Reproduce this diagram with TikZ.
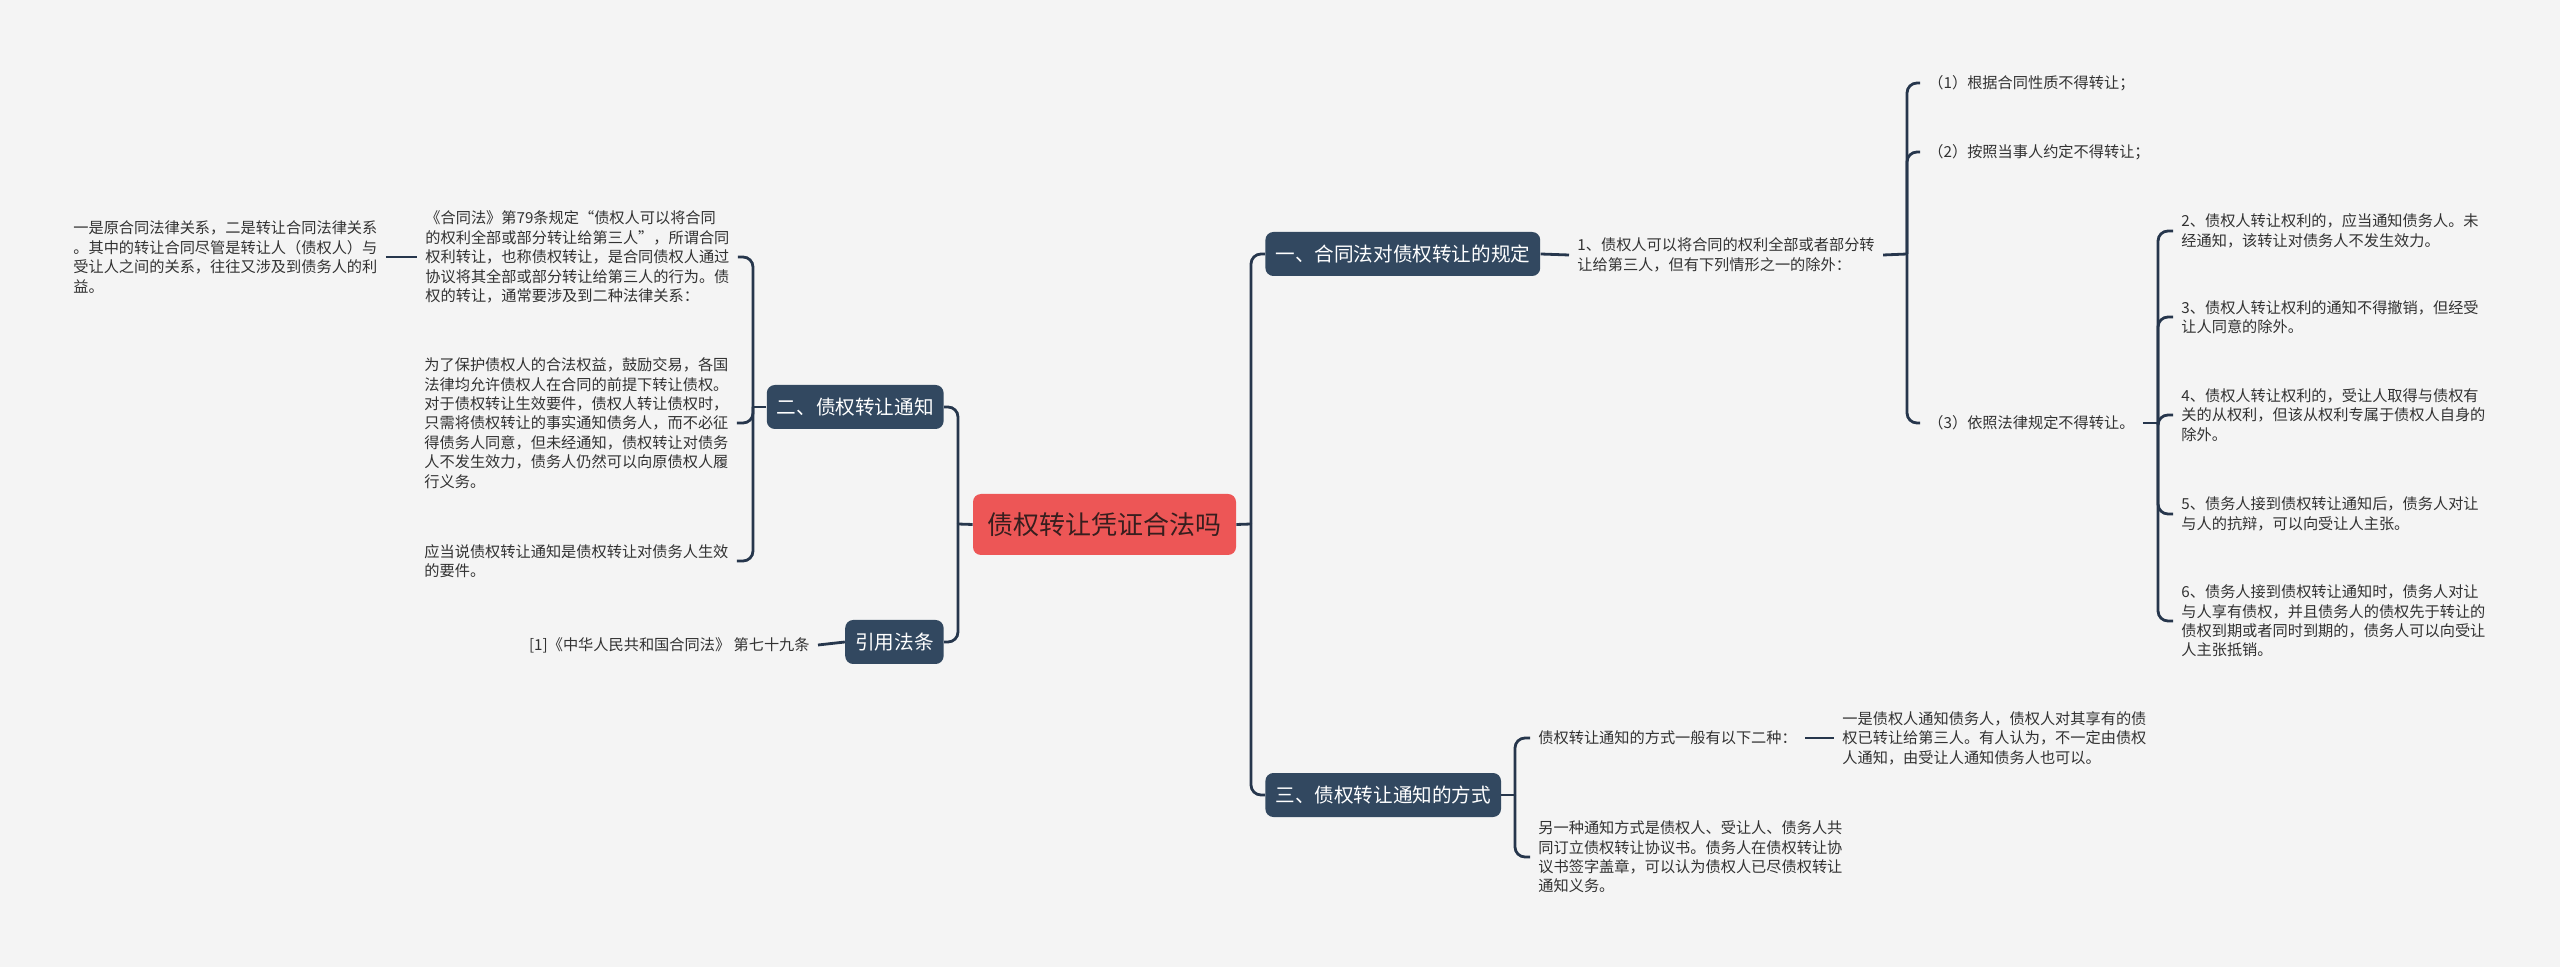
\documentclass[tikz,border=0pt]{standalone}
\usepackage{fontspec}
\usepackage{xcolor}
\usepackage{tikz}
\setmainfont{Noto Sans CJK SC}
\definecolor{pagebg}{RGB}{244,244,244}
\definecolor{linknavy}{RGB}{38,54,76}
\definecolor{branchblue}{RGB}{50,72,96}
\definecolor{rootred}{RGB}{237,86,86}
\definecolor{rootdark}{RGB}{55,30,30}
\definecolor{leafgray}{RGB}{50,50,50}

\begin{document}
\begin{tikzpicture}[x=0.5pt, y=-0.5pt,
    root/.style={rectangle, fill=rootred, rounded corners=4pt, text=rootdark,
                 minimum width=131.5pt, minimum height=30.5pt, font=\fontsize{13}{15}\selectfont},
    branch/.style={rectangle, fill=branchblue, rounded corners=4pt, text=white,
                   inner xsep=5pt, minimum height=22pt, font=\fontsize{9.8}{12}\selectfont},
    leaf/.style={align=left, text=leafgray, inner xsep=4pt, inner ysep=0pt,
                 font=\fontsize{7.6}{9.7}\selectfont},
    link/.style={draw=linknavy, line width=1.4pt, rounded corners=5pt}
]
\fill[pagebg] (0,0) rectangle (2560,967);

\node[root] (root) at (1104.5,524.5) {债权转让凭证合法吗};

\node[branch, anchor=west] (contract) at (1265,254) {一、合同法对债权转让的规定};
\node[branch, anchor=west] (manner)   at (1265,795) {三、债权转让通知的方式};
\node[branch, anchor=east] (notice)   at (944,407)  {二、债权转让通知};
\node[branch, anchor=east] (cite)     at (944,642)  {引用法条};

\node[leaf, anchor=west] (rule1) at (1569,255) {1、债权人可以将合同的权利全部或者部分转\\让给第三人，但有下列情形之一的除外：};
\node[leaf, anchor=west] (exc1) at (1920,83)  {（1）根据合同性质不得转让；};
\node[leaf, anchor=west] (exc2) at (1920,152) {（2）按照当事人约定不得转让；};
\node[leaf, anchor=west] (exc3) at (1920,423) {（3）依照法律规定不得转让。};
\node[leaf, anchor=west] (law2) at (2173,231) {2、债权人转让权利的，应当通知债务人。未\\经通知，该转让对债务人不发生效力。};
\node[leaf, anchor=west] (law3) at (2173,317) {3、债权人转让权利的通知不得撤销，但经受\\让人同意的除外。};
\node[leaf, anchor=west] (law4) at (2173,415) {4、债权人转让权利的，受让人取得与债权有\\关的从权利，但该从权利专属于债权人自身的\\除外。};
\node[leaf, anchor=west] (law5) at (2173,514) {5、债务人接到债权转让通知后，债务人对让\\与人的抗辩，可以向受让人主张。};
\node[leaf, anchor=west] (law6) at (2173,621) {6、债务人接到债权转让通知时，债务人对让\\与人享有债权，并且债务人的债权先于转让的\\债权到期或者同时到期的，债务人可以向受让\\人主张抵销。};

\node[leaf, anchor=west] (way1)  at (1530,738) {债权转让通知的方式一般有以下二种：};
\node[leaf, anchor=west] (way2)  at (1530,857) {另一种通知方式是债权人、受让人、债务人共\\同订立债权转让协议书。债务人在债权转让协\\议书签字盖章，可以认为债权人已尽债权转让\\通知义务。};
\node[leaf, anchor=west] (way1a) at (1834,738) {一是债权人通知债务人，债权人对其享有的债\\权已转让给第三人。有人认为，不一定由债权\\人通知，由受让人通知债务人也可以。};

\node[leaf, anchor=west] (def)    at (417,257) {《合同法》第79条规定“债权人可以将合同\\的权利全部或部分转让给第三人”，所谓合同\\权利转让，也称债权转让，是合同债权人通过\\协议将其全部或部分转让给第三人的行为。债\\权的转让，通常要涉及到二种法律关系：};
\node[leaf, anchor=west] (twolaw) at (65,257)  {一是原合同法律关系，二是转让合同法律关系\\。其中的转让合同尽管是转让人（债权人）与\\受让人之间的关系，往往又涉及到债务人的利\\益。};
\node[leaf, anchor=west] (valid)  at (416,423) {为了保护债权人的合法权益，鼓励交易，各国\\法律均允许债权人在合同的前提下转让债权。\\对于债权转让生效要件，债权人转让债权时，\\只需将债权转让的事实通知债务人，而不必征\\得债务人同意，但未经通知，债权转让对债务\\人不发生效力，债务人仍然可以向原债权人履\\行义务。};
\node[leaf, anchor=west] (cond)   at (416,561) {应当说债权转让通知是债权转让对债务人生效\\的要件。};
\node[leaf, anchor=east] (art79)  at (818,645) {[1]《中华人民共和国合同法》 第七十九条};

\coordinate (rspine) at (1251,524);
\coordinate (lspine) at (958,524);
\coordinate (espine) at (1907,254);
\coordinate (tspine) at (2158,423);
\coordinate (wspine) at (1515,795);
\coordinate (nspine) at (753,407);

\draw[link] (root.east) -- (rspine);
\draw[link] (rspine) |- (contract.west);
\draw[link] (rspine) |- (manner.west);
\draw[link] (root.west) -- (lspine);
\draw[link] (lspine) |- (notice.east);
\draw[link] (lspine) |- (cite.east);

\draw[link] (contract.east) -- (rule1.west);
\draw[link] (rule1.east) -- (espine);
\draw[link] (espine) |- (exc1.west);
\draw[link] (espine) |- (exc2.west);
\draw[link] (espine) |- (exc3.west);
\draw[link] (exc3.east) -- (tspine);
\draw[link] (tspine) |- (law2.west);
\draw[link] (tspine) |- (law3.west);
\draw[link] (tspine) |- (law4.west);
\draw[link] (tspine) |- (law5.west);
\draw[link] (tspine) |- (law6.west);

\draw[link] (manner.east) -- (wspine);
\draw[link] (wspine) |- (way1.west);
\draw[link] (wspine) |- (way2.west);
\draw[link] (way1.east) -- (way1a.west);

\draw[link] (notice.west) -- (nspine);
\draw[link] (nspine) |- (def.east);
\draw[link] (nspine) |- (valid.east);
\draw[link] (nspine) |- (cond.east);
\draw[link] (twolaw.east) -- (def.west);
\draw[link] (art79.east) -- (cite.west);
\end{tikzpicture}
\end{document}
